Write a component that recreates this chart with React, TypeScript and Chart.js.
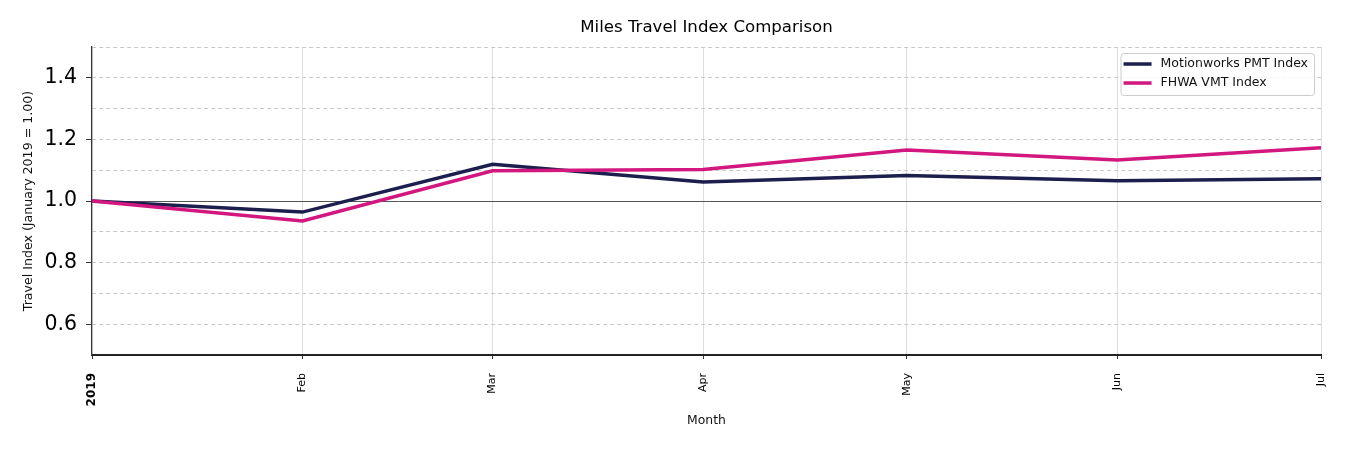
import React, { useEffect, useRef } from "react";
import { Chart, registerables } from "chart.js";

Chart.register(...registerables);

// Day offsets from 1 Jan 2019 for the first day of each month
const monthDays = [0, 31, 59, 90, 120, 151, 181];
const monthLabels = ["2019", "Feb", "Mar", "Apr", "May", "Jun", "Jul"];
const motionworksPMT = [1.0, 0.964, 1.119, 1.062, 1.083, 1.066, 1.072];
const fhwaVMT = [1.0, 0.935, 1.098, 1.102, 1.166, 1.133, 1.173];
const seriesNames = ["Motionworks PMT Index", "FHWA VMT Index"];
const seriesColors = ["#1c1e4d", "#d2177f"];

const FONT = '"DejaVu Sans", "Liberation Sans", sans-serif';

const insideLegend = {
  id: "insideLegend",
  afterDraw(chart: any) {
    const { ctx, chartArea } = chart;
    ctx.save();
    ctx.font = `12.5px ${FONT}`;
    const items = chart.data.datasets.map((ds: any) => ({ label: ds.label, color: ds.borderColor }));
    const textW = Math.max(...items.map((i: any) => ctx.measureText(i.label).width));
    const boxW = 40 + textW + 6;
    const boxH = 42;
    const x0 = chartArea.right - 7 - boxW;
    const y0 = chartArea.top + 6;
    ctx.beginPath();
    (ctx as any).roundRect(x0 + 0.5, y0 + 0.5, boxW, boxH, 3);
    ctx.fillStyle = "rgba(255,255,255,0.85)";
    ctx.fill();
    ctx.strokeStyle = "#cccccc";
    ctx.lineWidth = 1;
    ctx.stroke();
    items.forEach((it: any, i: number) => {
      const y = y0 + 11 + i * 19;
      ctx.beginPath();
      ctx.moveTo(x0 + 3, y);
      ctx.lineTo(x0 + 31, y);
      ctx.strokeStyle = it.color;
      ctx.lineWidth = 3.5;
      ctx.stroke();
      ctx.fillStyle = "#111111";
      ctx.textBaseline = "middle";
      ctx.textAlign = "left";
      ctx.fillText(it.label, x0 + 40, y);
    });
    ctx.restore();
  },
};

export default function App() {
  const ref = useRef<HTMLCanvasElement>(null);
  useEffect(() => {
    if (!ref.current) return;
    const toPts = (vals: number[]) => vals.map((v, i) => ({ x: monthDays[i], y: v }));
    const chart = new Chart(ref.current, {
      type: "line",
      data: {
        datasets: [
          {
            label: seriesNames[0],
            data: toPts(motionworksPMT),
            borderColor: seriesColors[0],
            backgroundColor: seriesColors[0],
            borderWidth: 3.5,
            pointRadius: 0,
            tension: 0,
            order: 1,
          },
          {
            label: seriesNames[1],
            data: toPts(fhwaVMT),
            borderColor: seriesColors[1],
            backgroundColor: seriesColors[1],
            borderWidth: 3.5,
            pointRadius: 0,
            tension: 0,
            order: 0,
          },
        ],
      },
      options: {
        responsive: false,
        animation: false,
        layout: { padding: { left: 0, right: 29, top: 0, bottom: 0 } },
        plugins: {
          legend: { display: false },
          tooltip: { enabled: false },
          title: {
            display: true,
            text: "Miles Travel Index Comparison",
            fullSize: false,
            color: "#000000",
            font: { family: FONT, size: 16.6, weight: "normal", lineHeight: 1.2 },
            padding: { top: 18, bottom: 9.1 },
          },
        },
        scales: {
          x: {
            type: "linear",
            min: 0,
            max: 181,
            afterBuildTicks: (scale: any) => {
              scale.ticks = monthDays.map((v) => ({ value: v }));
            },
            afterFit: (scale: any) => {
              scale.height = 95;
            },
            ticks: {
              autoSkip: false,
              minRotation: 90,
              maxRotation: 90,
              padding: 14,
              color: "#000000",
              font: (c: any) => ({
                family: FONT,
                size: c.index === 0 ? 12 : 11,
                weight: c.index === 0 ? "bold" : "normal",
              }),
              callback: (_v: any, i: number) => monthLabels[i],
            },
            grid: {
              color: "#dddddd",
              lineWidth: 1,
              tickColor: "#333333",
              tickLength: 4,
            },
            border: { color: "#222222", width: 2 },
            title: {
              display: true,
              text: "Month",
              color: "#111111",
              font: { family: FONT, size: 12.4, lineHeight: 1.2 },
              padding: { top: 0, bottom: 22 },
            },
          },
          y: {
            min: 0.5,
            max: 1.5,
            afterFit: (scale: any) => {
              scale.width = 92;
            },
            ticks: {
              stepSize: 0.1,
              padding: 9,
              color: "#000000",
              font: { family: FONT, size: 20.5 },
              callback: (v: any) => {
                const k = Math.round(Number(v) * 10);
                return k % 2 === 0 ? (k / 10).toFixed(1) : "";
              },
            },
            grid: {
              color: (c: any) => {
                const k = Math.round(Number(c.tick?.value) * 10);
                if (k === 10) return "#555555";
                if (k === 5) return "rgba(0,0,0,0)";
                return "#c8c8c8";
              },
              lineWidth: 1,
              tickColor: (c: any) => {
                const k = Math.round(Number(c.tick?.value) * 10);
                return k % 2 === 0 ? "#333333" : "rgba(0,0,0,0)";
              },
              tickLength: 6,
            },
            border: {
              color: "#333333",
              width: 1.2,
              dash: (c: any) => {
                const k = Math.round(Number(c.tick?.value) * 10);
                return k === 10 ? [] : [4, 3];
              },
            },
            title: {
              display: true,
              text: "Travel Index (January 2019 = 1.00)",
              color: "#111111",
              font: { family: FONT, size: 12.6, lineHeight: 1.2 },
              padding: { top: 21, bottom: 0 },
            },
          },
        },
      },
      plugins: [insideLegend],
    } as any);
    return () => chart.destroy();
  }, []);
  return (
    <div style={{ position: "fixed", left: 0, top: 0, width: 1350, height: 450, background: "#fff" }}>
      <canvas ref={ref} width={1350} height={450} style={{ display: "block" }} />
    </div>
  );
}
